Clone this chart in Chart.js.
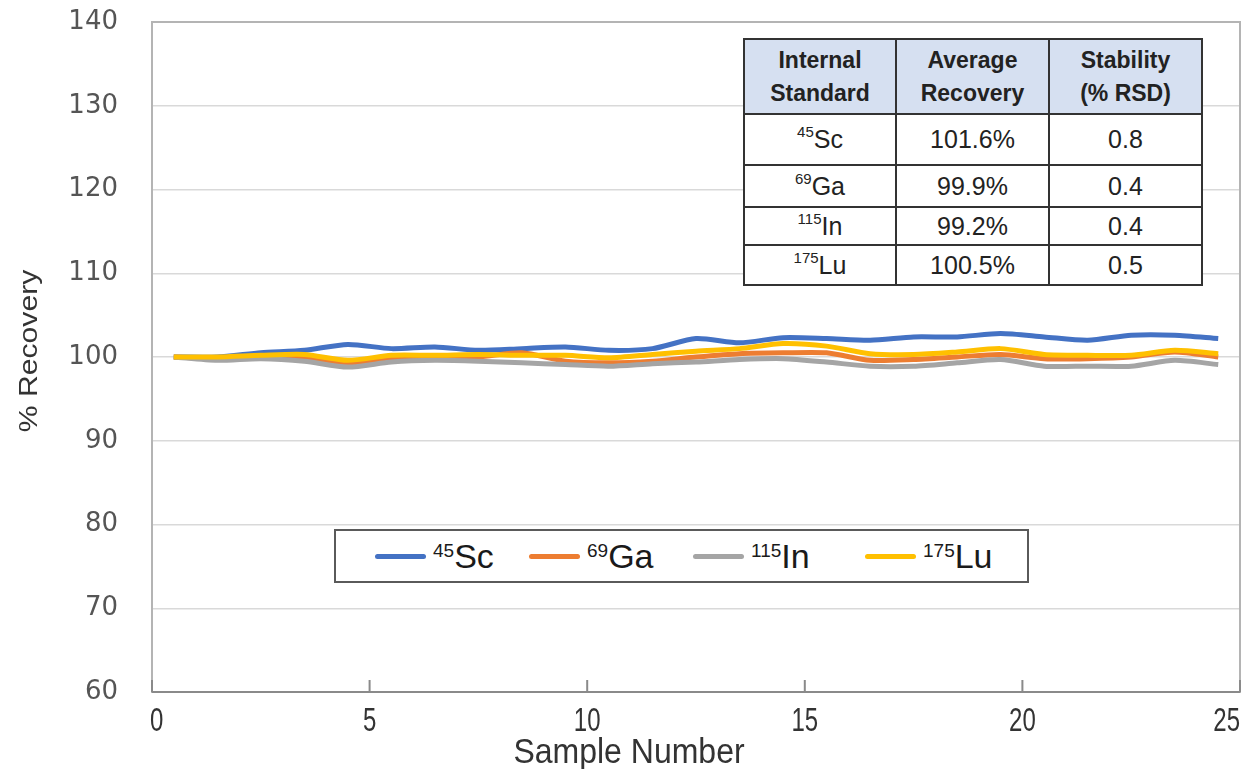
<!DOCTYPE html>
<html>
<head>
<meta charset="utf-8">
<script src="https://cdn.jsdelivr.net/npm/chart.js@4.4.1/dist/chart.umd.min.js"></script>
<style>
  body { margin: 0; background: #fff; }
  #wrap { position: relative; width: 1249px; height: 769px; }
  #legend { position: absolute; left: 334px; top: 529px; width: 691px; height: 50px;
    border: 2px solid #5a5a5a; background: #fff; font-family: "Liberation Sans", Arial, sans-serif; }
  .item { position: absolute; top: 0; height: 50px; display: flex; align-items: center;
    font-size: 34px; color: #1a1a1a; line-height: 1; }
  .swatch { width: 51px; height: 5px; border-radius: 3px; margin-right: 7px; }
  .item sup { font-size: 19px; vertical-align: top; position: relative; top: 2px; }
  #stats { position: absolute; left: 743px; top: 38px; border-collapse: collapse;
    font-family: "Liberation Sans", Arial, sans-serif; background: #fff; }
  #stats td, #stats th { border: 2px solid #333; text-align: center; padding: 0; color: #222; }
  #stats th { background: #d6e0f1; font-weight: bold; font-size: 23px; line-height: 33px; height: 73px; }
  #stats td { font-size: 25px; }
  #stats td sup { font-size: 15px; vertical-align: top; position: relative; top: -2px; }
</style>
</head>
<body>
<div id="wrap">
  <canvas id="recov"></canvas>
  <table id="stats"></table>
  <div id="legend"></div>
</div>
<script>
// sample positions (Excel category centres)
const sampleX = [0.5, 1.5, 2.5, 3.5, 4.5, 5.5, 6.5, 7.5, 8.5, 9.5, 10.5, 11.5, 12.5,
  13.5, 14.5, 15.5, 16.5, 17.5, 18.5, 19.5, 20.5, 21.5, 22.5, 23.5, 24.5];

const sc = [100, 100, 100.5, 100.8, 101.5, 101, 101.2, 100.8, 101, 101.2, 100.8, 101, 102.2,
  101.7, 102.3, 102.2, 102, 102.4, 102.4, 102.8, 102.4, 102, 102.6, 102.6, 102.2];
const ga = [100, 99.8, 100, 100, 99.2, 99.8, 100, 100, 100.5, 99.5, 99.3, 99.5, 100,
  100.4, 100.5, 100.5, 99.6, 99.7, 100, 100.3, 99.8, 99.8, 100, 100.6, 100];
const inn = [100, 99.6, 99.8, 99.5, 98.8, 99.4, 99.6, 99.5, 99.3, 99.1, 98.9, 99.2, 99.4,
  99.7, 99.8, 99.4, 98.9, 98.9, 99.3, 99.7, 98.9, 98.9, 98.9, 99.6, 99.1];
const lu = [100, 100, 100.2, 100.3, 99.6, 100.2, 100.2, 100.3, 100.2, 100.2, 99.9, 100.3, 100.7,
  101, 101.6, 101.3, 100.4, 100.3, 100.6, 101, 100.3, 100.2, 100.2, 100.8, 100.4];

const massNumbers = [45, 69, 115, 175];
const elements = ["Sc", "Ga", "In", "Lu"];
const avgRecovery = ["101.6%", "99.9%", "99.2%", "100.5%"];
const rsd = ["0.8", "0.4", "0.4", "0.5"];
const headers = [["Internal", "Standard"], ["Average", "Recovery"], ["Stability", "(% RSD)"]];

const colors = ["#4472c4", "#ed7d31", "#a5a5a5", "#ffc000"];
const seriesList = [sc, ga, inn, lu];

// table
const rowHeights = [51, 42, 38, 40];
const colWidths = [150, 151, 151];
let html = "<tr>" + headers.map((h, i) =>
  `<th style="width:${colWidths[i]}px">${h[0]}<br>${h[1]}</th>`).join("") + "</tr>";
for (let i = 0; i < elements.length; i++) {
  html += `<tr style="height:${rowHeights[i]}px"><td><sup>${massNumbers[i]}</sup>${elements[i]}</td>` +
    `<td>${avgRecovery[i]}</td><td>${rsd[i]}</td></tr>`;
}
document.getElementById("stats").innerHTML = html;

// legend
const legendLeft = [39, 193, 357, 529];
document.getElementById("legend").innerHTML = elements.map((el, i) =>
  `<div class="item" style="left:${legendLeft[i]}px"><span class="swatch" style="background:${colors[i]}"></span>` +
  `<span><sup>${massNumbers[i]}</sup>${el}</span></div>`).join("");

const frame = {
  id: "frame",
  afterDraw(chart) {
    const ctx = chart.ctx, a = chart.chartArea, xs = chart.scales.x;
    ctx.save();
    ctx.strokeStyle = "#b4b4b4";
    ctx.lineWidth = 2;
    ctx.strokeRect(a.left, a.top, a.right - a.left, a.bottom - a.top);
    ctx.strokeStyle = "#8a8a8a";
    ctx.beginPath();
    ctx.moveTo(a.left, a.bottom);
    ctx.lineTo(a.right, a.bottom);
    xs.ticks.forEach(t => {
      const px = xs.getPixelForValue(t.value);
      ctx.moveTo(px, a.bottom);
      ctx.lineTo(px, a.bottom - 12);
    });
    ctx.stroke();

    // x tick labels
    ctx.fillStyle = "#333";
    ctx.font = "24px 'Liberation Sans', Arial";
    ctx.textAlign = "center";
    ctx.textBaseline = "middle";
    xs.ticks.forEach(t => {
      const lbl = String(t.value);
      const w = ctx.measureText(lbl).width;
      let px = xs.getPixelForValue(t.value);
      px = Math.min(Math.max(px, a.left + w / 2 - 2), a.right - w / 2);
      ctx.save();
      ctx.translate(px, 722);
      ctx.scale(1, 1.4);
      ctx.fillText(lbl, 0, 0);
      ctx.restore();
    });

    // x title
    ctx.save();
    ctx.font = "32px 'Liberation Sans', Arial";
    ctx.translate(629, 753);
    ctx.scale(1, 1.12);
    ctx.fillText("Sample Number", 0, 0);
    ctx.restore();

    // y title
    ctx.save();
    ctx.font = "26px 'Liberation Sans', Arial";
    ctx.translate(30, 351);
    ctx.rotate(-Math.PI / 2);
    ctx.scale(1.16, 1);
    ctx.fillText("% Recovery", 0, 0);
    ctx.restore();
    ctx.restore();
  }
};

new Chart(document.getElementById("recov"), {
  type: "line",
  data: {
    datasets: seriesList.map((s, i) => ({
      label: elements[i],
      data: s.map((v, j) => ({ x: sampleX[j], y: v })),
      borderColor: colors[i],
      backgroundColor: colors[i],
      borderWidth: 5,
      pointRadius: 0,
      tension: 0.25,
      order: 4 - i
    }))
  },
  options: {
    responsive: true,
    maintainAspectRatio: false,
    animation: false,
    layout: { padding: { top: 22, right: 9, left: 0, bottom: 0 } },
    plugins: { legend: { display: false }, tooltip: { enabled: false } },
    scales: {
      x: {
        type: "linear", min: 0, max: 25,
        ticks: { display: false, stepSize: 5 },
        grid: { display: false },
        border: { display: false },
        afterFit(s) { s.height = 77; s.paddingLeft = 0; s.paddingRight = 0; }
      },
      y: {
        min: 60, max: 140,
        ticks: { stepSize: 10, padding: 34, color: "#555", font: { family: "DejaVu Sans", size: 26 } },
        grid: { color: "#d9d9d9", lineWidth: 1.5, drawTicks: false },
        border: { display: false },
        afterFit(s) { s.width = 152; s.paddingTop = 0; s.paddingBottom = 0; }
      }
    }
  },
  plugins: [frame]
});
</script>
</body>
</html>
